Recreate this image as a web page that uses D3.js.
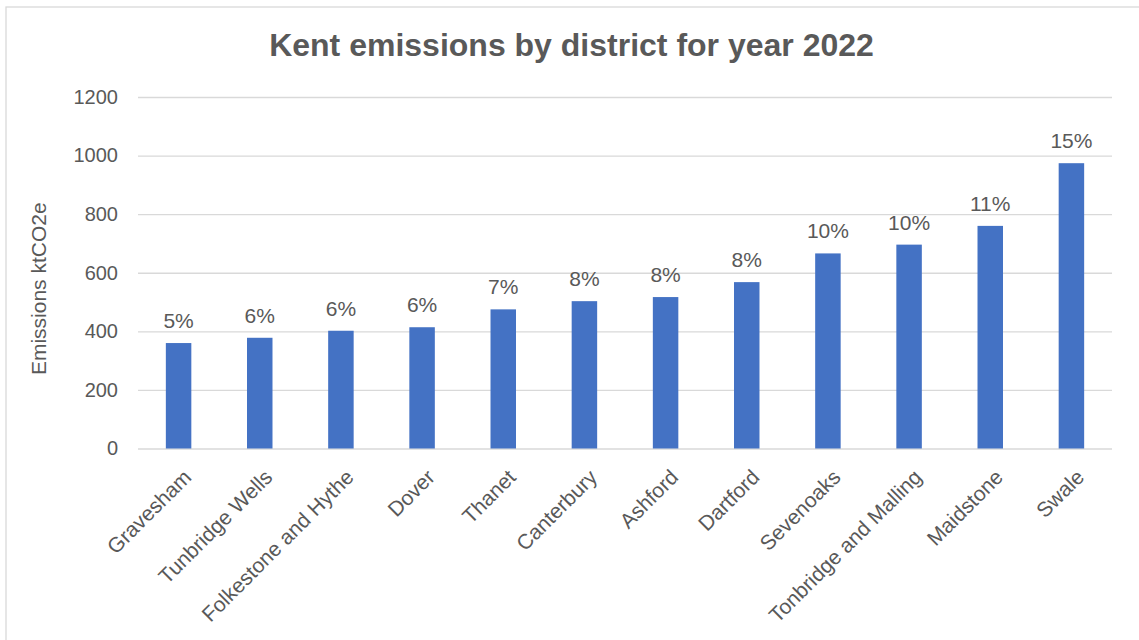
<!DOCTYPE html>
<html>
<head>
<meta charset="utf-8">
<script src="https://cdn.jsdelivr.net/npm/d3@7"></script>
<style>
  html, body { margin: 0; padding: 0; background: #fff; }
  text { font-family: "Liberation Sans", Arial, sans-serif; fill: #595959; }
</style>
</head>
<body>
<div id="chart"></div>
<script>
const districts = ['Gravesham', 'Tunbridge Wells', 'Folkestone and Hythe', 'Dover', 'Thanet', 'Canterbury',
  'Ashford', 'Dartford', 'Sevenoaks', 'Tonbridge and Malling', 'Maidstone', 'Swale'];
const emissions = [360, 378, 402, 414, 475, 503, 517, 568, 666, 696, 760, 974];
const shares = ['5%', '6%', '6%', '6%', '7%', '8%', '8%', '8%', '10%', '10%', '11%', '15%'];
const yTicks = [0, 200, 400, 600, 800, 1000, 1200];

const w = 1139;
const h = 640;
const margin = ({ top: 97, right: 27, bottom: 191.5, left: 138 });

const dataset = districts.map((d, i) => ({ name: d, value: emissions[i], share: shares[i] }));

const svg = d3.select('#chart')
  .append('svg')
  .attr('width', w)
  .attr('height', h);

// chart area border
svg.append('rect')
  .attr('x', 6)
  .attr('y', 7)
  .attr('width', w)
  .attr('height', h)
  .attr('fill', 'none')
  .attr('stroke', '#d9d9d9')
  .attr('stroke-width', 1.3);

const xScale = d3.scaleBand()
  .domain(districts)
  .range([margin.left, w - margin.right])
  .paddingInner(0.686)
  .paddingOuter(0.343);

const yScale = d3.scaleLinear()
  .domain([0, 1200])
  .range([h - margin.bottom, margin.top]);

// gridlines + y labels
const yAxis = d3.axisLeft(yScale)
  .tickValues(yTicks)
  .tickFormat(d3.format('d'))
  .tickSize(-(w - margin.left - margin.right))
  .tickPadding(20);

svg.append('g')
  .classed('y-axis', true)
  .attr('transform', `translate(${margin.left}, 0)`)
  .call(yAxis);

svg.selectAll('.y-axis .domain').remove();
svg.selectAll('.y-axis .tick line')
  .attr('stroke', '#d9d9d9')
  .attr('stroke-width', 1.3);
svg.selectAll('.y-axis .tick text')
  .attr('font-size', 20)
  .attr('fill', '#595959');

// bars
svg.selectAll('.bar')
  .data(dataset)
  .enter()
  .append('rect')
  .attr('class', 'bar')
  .attr('x', d => xScale(d.name))
  .attr('y', d => yScale(d.value))
  .attr('width', xScale.bandwidth())
  .attr('height', d => yScale(0) - yScale(d.value))
  .attr('fill', '#4472c4');

// percent labels
svg.selectAll('.share')
  .data(dataset)
  .enter()
  .append('text')
  .attr('class', 'share')
  .attr('x', d => xScale(d.name) + xScale.bandwidth() / 2)
  .attr('y', d => yScale(d.value) - 15)
  .attr('text-anchor', 'middle')
  .attr('font-size', 21)
  .text(d => d.share);

// x axis labels
const xAxis = d3.axisBottom(xScale).tickSize(0).tickPadding(0);
const gx = svg.append('g')
  .classed('x-axis', true)
  .attr('transform', `translate(0, ${yScale(0)})`)
  .call(xAxis);
gx.select('.domain').remove();
gx.selectAll('.tick text')
  .attr('font-size', 21)
  .attr('fill', '#595959')
  .attr('text-anchor', 'end')
  .attr('dy', null)
  .attr('y', 0)
  .attr('transform', 'translate(14, 30) rotate(-45)');

// title
svg.append('text')
  .attr('x', 571.5)
  .attr('y', 56)
  .attr('text-anchor', 'middle')
  .attr('font-size', 32)
  .attr('font-weight', 'bold')
  .text('Kent emissions by district for year 2022');

// y axis title
svg.append('text')
  .attr('transform', `translate(46, ${(yScale(0) + yScale(1200)) / 2 + 16}) rotate(-90)`)
  .attr('text-anchor', 'middle')
  .attr('font-size', 21)
  .text('Emissions ktCO2e');
</script>
</body>
</html>
